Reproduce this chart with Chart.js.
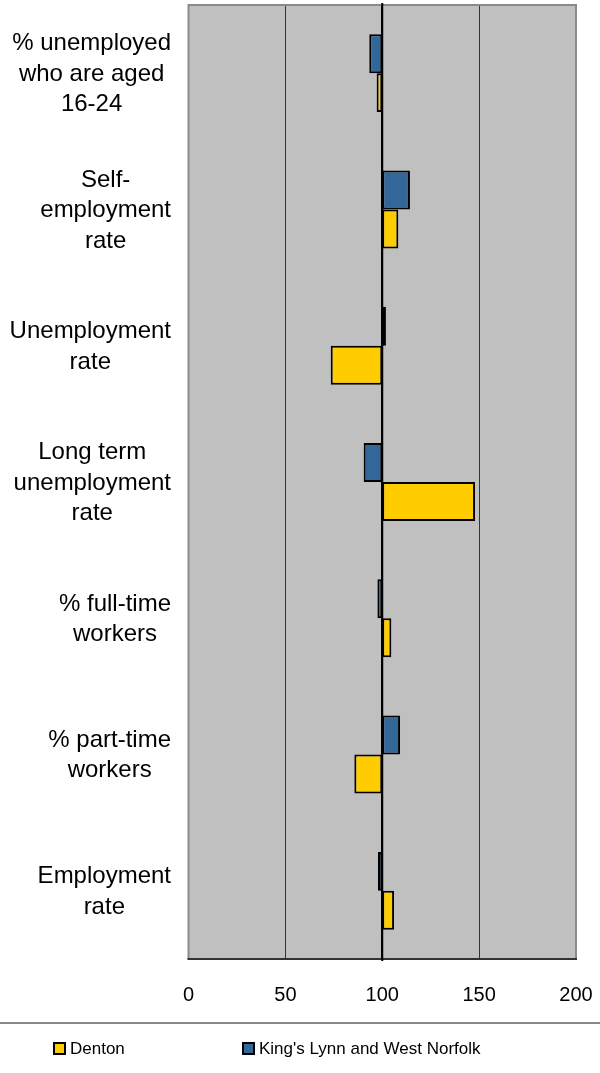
<!DOCTYPE html>
<html>
<head>
<meta charset="utf-8">
<script src="https://cdn.jsdelivr.net/npm/chart.js@4/dist/chart.umd.min.js"></script>
<style>
html,body{margin:0;padding:0;background:#fff;}
#wrap{width:600px;height:1073px;position:relative;}
</style>
</head>
<body>
<div id="wrap"><canvas id="c" width="600" height="1073"></canvas></div>
<script>
// ---- data ----
const categories = [
  ["% unemployed", "who are aged", "16-24"],
  ["Self-", "employment", "rate"],
  ["Unemployment", "rate"],
  ["Long term", "unemployment", "rate"],
  ["% full-time", "workers"],
  ["% part-time", "workers"],
  ["Employment", "rate"]
];
const seriesNames = ["King's Lynn and West Norfolk", "Denton"];
const kingsLynn = [93.3, 114.3, 101.9, 90.4, 97.5, 109.2, 97.8];
const denton = [97.1, 108.3, 73.4, 147.9, 104.7, 85.6, 106.1];
const baseValue = 100;
const xMin = 0, xMax = 200, xStep = 50;

const FONT = "'Liberation Sans', Arial, sans-serif";
const BLUE = '#336699', YELLOW = '#FFCC00';

const toFloating = arr => arr.map(v => [baseValue, v]);

const decorPlugin = {
  id: 'decor',
  beforeDraw(chart) {
    const {ctx, chartArea: a} = chart;
    ctx.save();
    ctx.fillStyle = '#C0C0C0';
    ctx.fillRect(a.left, a.top, a.right - a.left, a.bottom - a.top);
    ctx.restore();
  },
  afterDraw(chart) {
    const {ctx, chartArea: a} = chart;
    const y = chart.scales.y;
    const x = chart.scales.x;
    ctx.save();
    // frame
    ctx.strokeStyle = '#8a8a8a';
    ctx.lineWidth = 2;
    ctx.beginPath();
    ctx.moveTo(a.left, a.bottom);
    ctx.lineTo(a.left, a.top);
    ctx.lineTo(a.right, a.top);
    ctx.lineTo(a.right, a.bottom);
    ctx.stroke();
    ctx.strokeStyle = '#333';
    ctx.beginPath();
    ctx.moveTo(a.left - 1, a.bottom);
    ctx.lineTo(a.right + 1, a.bottom);
    ctx.stroke();
    // base line slightly overhanging the frame
    const bx = x.getPixelForValue(baseValue);
    ctx.strokeStyle = '#000';
    ctx.beginPath();
    ctx.moveTo(bx, a.top - 2);
    ctx.lineTo(bx, a.bottom + 2);
    ctx.stroke();
    // category labels
    ctx.fillStyle = '#000';
    ctx.font = '24px ' + FONT;
    ctx.textAlign = 'center';
    ctx.textBaseline = 'middle';
    const lh = 30.5;
    chart.data.labels.forEach((lines, i) => {
      const cy = y.getPixelForValue(i);
      const maxW = Math.max(...lines.map(l => ctx.measureText(l).width));
      const cx = 171 - maxW / 2;
      lines.forEach((l, k) => {
        ctx.fillText(l, cx, cy + (k - (lines.length - 1) / 2) * lh + 1);
      });
    });
    // separator
    ctx.strokeStyle = '#888';
    ctx.lineWidth = 2;
    ctx.beginPath();
    ctx.moveTo(0, 1023);
    ctx.lineTo(600, 1023);
    ctx.stroke();
    // legend
    const items = [
      {ds: chart.data.datasets[1], x: 53},
      {ds: chart.data.datasets[0], x: 242}
    ];
    ctx.font = '17px ' + FONT;
    ctx.textAlign = 'left';
    items.forEach(it => {
      ctx.fillStyle = '#000';
      ctx.fillRect(it.x, 1042, 13, 13);
      ctx.fillStyle = it.ds.backgroundColor;
      ctx.fillRect(it.x + 2, 1044, 9, 9);
      ctx.fillStyle = '#000';
      ctx.fillText(it.ds.label, it.x + 17, 1049.5);
    });
    ctx.restore();
  }
};

new Chart(document.getElementById('c'), {
  type: 'bar',
  data: {
    labels: categories,
    datasets: [
      {label: seriesNames[0], data: toFloating(kingsLynn), backgroundColor: BLUE,
       borderColor: '#000', borderWidth: 2, borderSkipped: false},
      {label: seriesNames[1], data: toFloating(denton), backgroundColor: YELLOW,
       borderColor: '#000', borderWidth: 2, borderSkipped: false}
    ]
  },
  options: {
    indexAxis: 'y',
    responsive: false,
    animation: false,
    devicePixelRatio: 1,
    categoryPercentage: 0.572,
    barPercentage: 1,
    layout: {padding: {left: 188.5, right: 24, top: 5, bottom: 50}},
    plugins: {legend: {display: false}, tooltip: {enabled: false}},
    scales: {
      y: {display: false},
      x: {
        min: xMin, max: xMax,
        ticks: {stepSize: xStep, color: '#000', font: {family: FONT, size: 20}, padding: 0},
        border: {display: false},
        grid: {
          drawTicks: true,
          tickLength: 24,
          tickColor: 'rgba(0,0,0,0)',
          color: c => (c.tick && c.tick.value === baseValue) ? '#000' :
                 (c.tick && (c.tick.value === xMin || c.tick.value === xMax)) ? 'rgba(0,0,0,0)' : '#333',
          lineWidth: c => (c.tick && c.tick.value === baseValue) ? 2 : 1
        },
        afterFit: s => { s.height = 64; }
      }
    }
  },
  plugins: [decorPlugin]
});
</script>
</body>
</html>
